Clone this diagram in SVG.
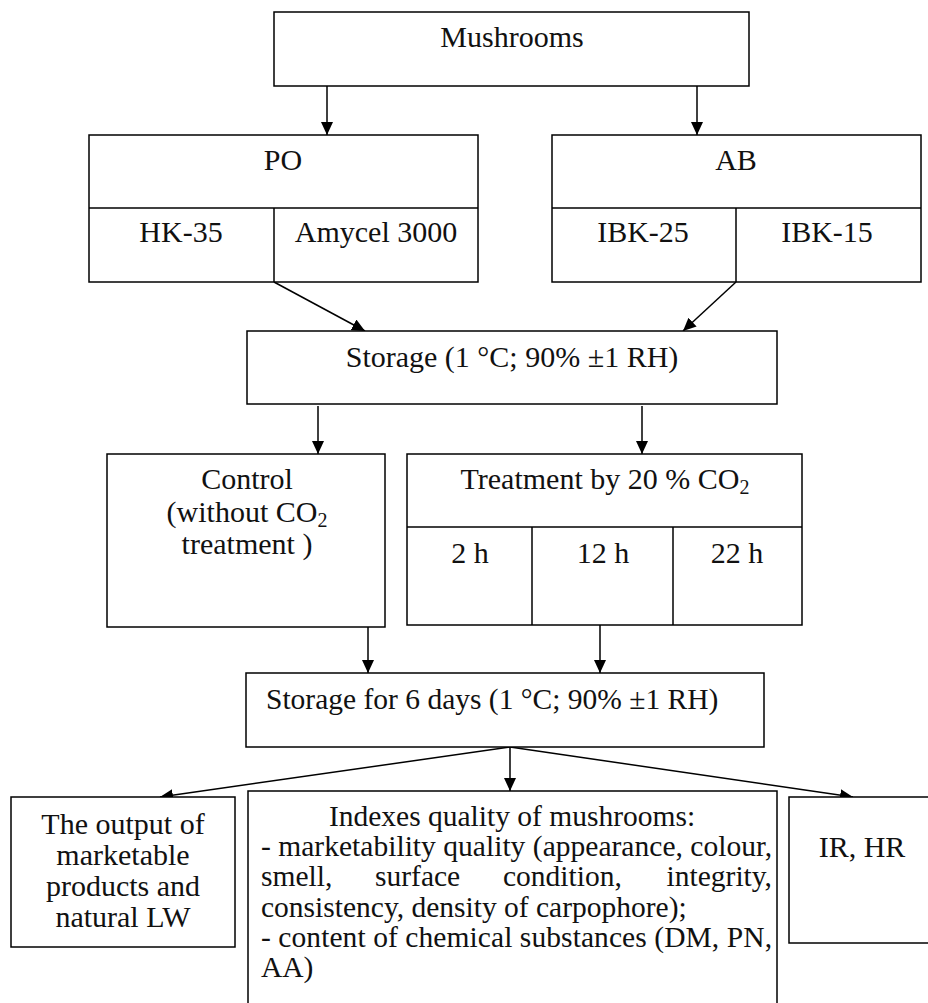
<svg xmlns="http://www.w3.org/2000/svg" width="928" height="1003" viewBox="0 0 928 1003">
<style>
  .box { fill: #ffffff; stroke: #000000; stroke-width: 1.5; }
  .ln { fill: none; stroke: #000000; stroke-width: 1.5; }
  .arr { fill: none; stroke: #000000; stroke-width: 1.5; marker-end: url(#ah); }
  text { font-family: "Liberation Serif", "Times New Roman", serif; font-size: 30px; fill: #111111; }
  .c { text-anchor: middle; }
  .sub { font-size: 20px; }
  .body { font-size: 29.5px; }
</style>
<defs>
  <marker id="ah" markerUnits="userSpaceOnUse" markerWidth="14" markerHeight="12" refX="13" refY="6" orient="auto">
    <path d="M0,0 L13,6 L0,12 Z" fill="#000000"/>
  </marker>
</defs>
<rect width="928" height="1003" fill="#ffffff"/>

<g id="connectors">
  <line class="arr" x1="327" y1="86" x2="327" y2="135"/>
  <line class="arr" x1="697" y1="86" x2="697" y2="135"/>
  <line class="arr" x1="274" y1="282" x2="365" y2="331"/>
  <line class="arr" x1="736" y1="282" x2="683" y2="331"/>
  <line class="arr" x1="318" y1="406" x2="318" y2="454"/>
  <line class="arr" x1="642" y1="406" x2="642" y2="454"/>
  <line class="arr" x1="368" y1="627" x2="368" y2="673"/>
  <line class="arr" x1="600" y1="625" x2="600" y2="673"/>
  <line class="arr" x1="510" y1="747" x2="160" y2="797"/>
  <line class="arr" x1="510" y1="747" x2="510" y2="791"/>
  <line class="arr" x1="510" y1="747" x2="853" y2="797"/>
</g>

<g id="mushrooms">
  <rect class="box" x="274" y="12" width="475" height="74"/>
  <text class="c" x="512" y="47">Mushrooms</text>
</g>

<g id="po">
  <rect class="box" x="89" y="135" width="389" height="147"/>
  <line class="ln" x1="89" y1="208" x2="478" y2="208"/>
  <line class="ln" x1="274" y1="208" x2="274" y2="282"/>
  <text class="c" x="283" y="170">PO</text>
  <text class="c" x="181" y="242">HK-35</text>
  <text class="c" x="376" y="242">Amycel 3000</text>
</g>

<g id="ab">
  <rect class="box" x="552" y="135" width="369" height="147"/>
  <line class="ln" x1="552" y1="208" x2="921" y2="208"/>
  <line class="ln" x1="736" y1="208" x2="736" y2="282"/>
  <text class="c" x="736" y="170">AB</text>
  <text class="c" x="643" y="242">IBK-25</text>
  <text class="c" x="827" y="242">IBK-15</text>
</g>

<g id="storage">
  <rect class="box" x="247" y="331" width="530" height="73"/>
  <text class="c" x="512" y="367">Storage (1 °C; 90% ±1 RH)</text>
</g>

<g id="control">
  <rect class="box" x="107" y="454" width="278" height="173"/>
  <text class="c" x="247" y="489">Control</text>
  <text class="c" x="247" y="522">(without CO<tspan class="sub" dy="5">2</tspan></text>
  <text class="c" x="247" y="554">treatment )</text>
</g>

<g id="treatment">
  <rect class="box" x="407" y="454" width="395" height="171"/>
  <line class="ln" x1="407" y1="527" x2="802" y2="527"/>
  <line class="ln" x1="532" y1="527" x2="532" y2="625"/>
  <line class="ln" x1="673" y1="527" x2="673" y2="625"/>
  <text class="c" x="605" y="489">Treatment by 20 % CO<tspan class="sub" dy="5">2</tspan></text>
  <text class="c" x="470" y="563">2 h</text>
  <text class="c" x="603" y="563">12 h</text>
  <text class="c" x="737" y="563">22 h</text>
</g>

<g id="storage6">
  <rect class="box" x="246" y="673" width="518" height="74"/>
  <text class="body" x="266" y="709">Storage for 6 days (1 °C; 90% ±1 RH)</text>
</g>

<g id="output">
  <rect class="box" x="11" y="797" width="224" height="150"/>
  <text class="c" x="123" y="834">The output of</text>
  <text class="c" x="123" y="865">marketable</text>
  <text class="c" x="123" y="896">products and</text>
  <text class="c" x="123" y="927">natural LW</text>
</g>

<g id="indexes">
  <path class="ln" d="M248,1010 L248,791 L777,791 L777,1010"/>
  <text class="c body" x="512" y="826">Indexes quality of mushrooms:</text>
  <text class="body" x="261" y="856" textLength="511" lengthAdjust="spacing">- marketability quality (appearance, colour,</text>
  <text class="body" x="261" y="886">smell,</text>
  <text class="body" x="375" y="886">surface</text>
  <text class="body" x="503" y="886">condition,</text>
  <text class="body" x="772" y="886" text-anchor="end">integrity,</text>
  <text class="body" x="261" y="917">consistency, density of carpophore);</text>
  <text class="body" x="261" y="947" textLength="511" lengthAdjust="spacing">- content of chemical substances (DM, PN,</text>
  <text class="body" x="261" y="977">AA)</text>
</g>

<g id="irhr">
  <rect class="box" x="789" y="797" width="145" height="146"/>
  <text class="c" x="862" y="857">IR, HR</text>
</g>
</svg>
